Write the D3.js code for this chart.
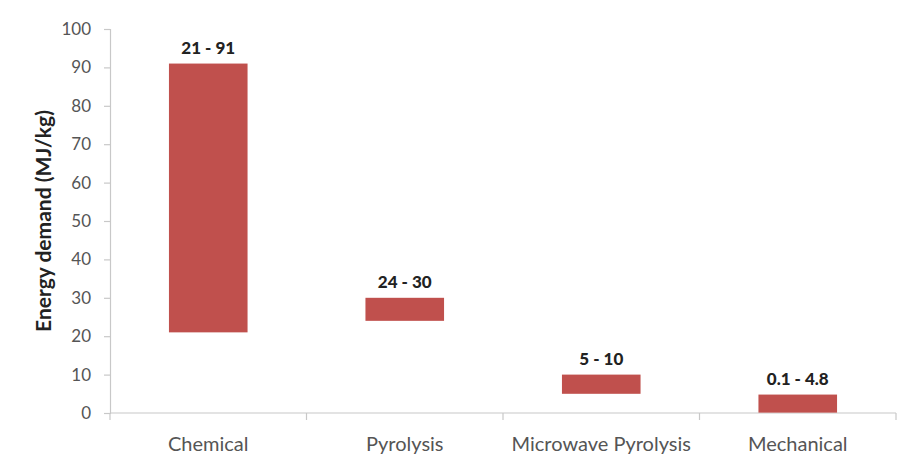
<!DOCTYPE html>
<html>
<head>
<meta charset="utf-8">
<script src="https://cdn.jsdelivr.net/npm/d3@7"></script>
<style>
  html, body { margin: 0; padding: 0; background: #fff; }
  svg { display: block; }
</style>
</head>
<body>
<svg id="chart" width="899" height="459"></svg>
<script>
// Energy demand ranges per recycling route (MJ/kg)
const categories = ["Chemical", "Pyrolysis", "Microwave Pyrolysis", "Mechanical"];
const lowValues  = [21, 24, 5, 0.1];
const highValues = [91, 30, 10, 4.8];
const rangeLabels = ["21 - 91", "24 - 30", "5 - 10", "0.1 - 4.8"];
const yTicks = [0, 10, 20, 30, 40, 50, 60, 70, 80, 90, 100];

const svg = d3.select("#chart");
const margin = { left: 110, right: 3, top: 29, bottom: 46 };
const W = 899, H = 459;

const x = d3.scaleBand()
  .domain(categories)
  .range([margin.left, W - margin.right])
  .paddingInner(0.6)
  .paddingOuter(0.3);

const y = d3.scaleLinear()
  .domain([0, 100])
  .range([H - margin.bottom, margin.top]);

const axisColor = "#c8c8c8";
const font = "Lato, 'Open Sans', sans-serif";

// Y axis
const yAxis = svg.append("g")
  .attr("transform", `translate(${margin.left},0)`)
  .call(d3.axisLeft(y).tickValues(yTicks).tickSize(6).tickPadding(13));
yAxis.select(".domain").attr("stroke", axisColor).attr("stroke-width", 1.2);
yAxis.selectAll(".tick line").attr("stroke", axisColor).attr("stroke-width", 1.2);
yAxis.selectAll(".tick text")
  .attr("fill", "#555")
  .style("font-family", font)
  .style("font-size", "17px");

// X axis with boundary ticks between categories
const xAxisG = svg.append("g")
  .attr("transform", `translate(0,${y(0)})`);
xAxisG.append("line")
  .attr("x1", margin.left).attr("x2", W - margin.right)
  .attr("stroke", axisColor).attr("stroke-width", 1.2);
const [r0, r1] = x.range();
const bounds = d3.range(categories.length + 1).map(i => r0 + i * (r1 - r0) / categories.length);
xAxisG.selectAll("line.sep")
  .data(bounds)
  .join("line")
  .attr("class", "sep")
  .attr("x1", d => d).attr("x2", d => d)
  .attr("y1", 0).attr("y2", 7)
  .attr("stroke", axisColor).attr("stroke-width", 1.2);

xAxisG.selectAll("text.cat")
  .data(categories)
  .join("text")
  .attr("class", "cat")
  .attr("x", d => x(d) + x.bandwidth() / 2)
  .attr("y", 38)
  .attr("text-anchor", "middle")
  .attr("fill", "#555")
  .style("font-family", font)
  .style("font-size", "20px")
  .text(d => d);

// Floating range bars
svg.append("g").selectAll("rect")
  .data(categories)
  .join("rect")
  .attr("x", d => x(d))
  .attr("width", x.bandwidth())
  .attr("y", (d, i) => y(highValues[i]))
  .attr("height", (d, i) => y(lowValues[i]) - y(highValues[i]))
  .attr("fill", "#c0504d");

// Range labels above each bar
svg.append("g").selectAll("text")
  .data(categories)
  .join("text")
  .attr("x", d => x(d) + x.bandwidth() / 2)
  .attr("y", (d, i) => y(highValues[i]) - 10)
  .attr("text-anchor", "middle")
  .attr("fill", "#222")
  .style("font-family", font)
  .style("font-weight", "900")
  .style("font-size", "17px")
  .text((d, i) => rangeLabels[i]);

// Y axis title
svg.append("text")
  .attr("transform", `translate(51,${(y(0) + y(100)) / 2}) rotate(-90)`)
  .attr("text-anchor", "middle")
  .attr("fill", "#222")
  .style("font-family", font)
  .style("font-weight", "bold")
  .style("font-size", "21px")
  .text("Energy demand (MJ/kg)");
</script>
</body>
</html>
